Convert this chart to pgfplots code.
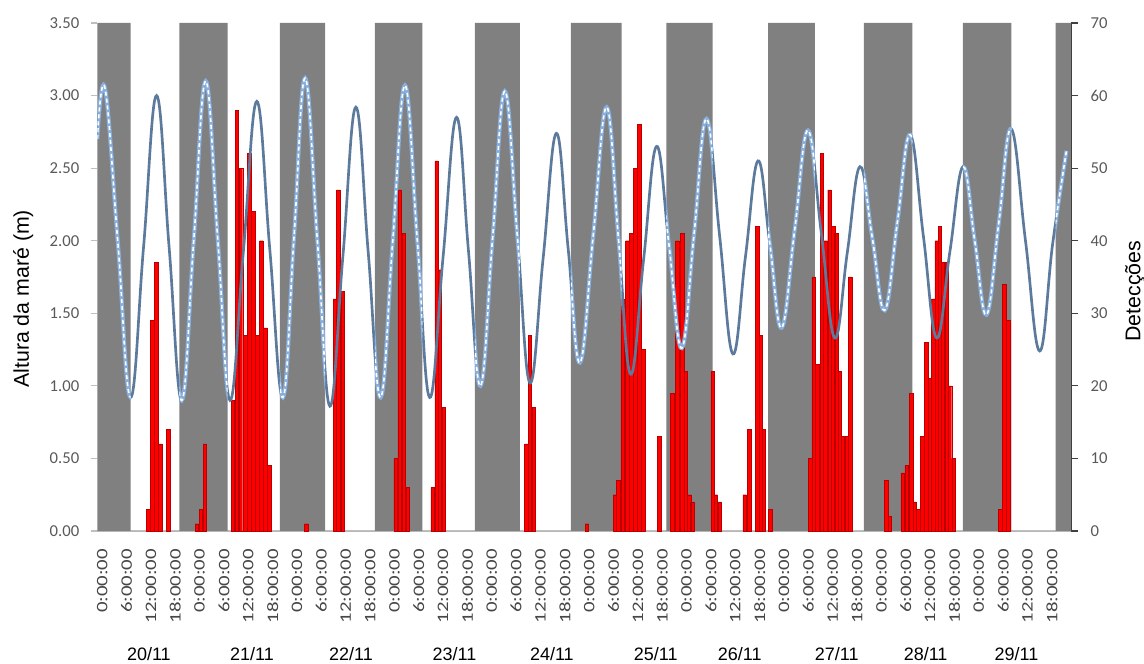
\documentclass[border=0pt]{standalone}
\usepackage{pgfplots}
\usepackage{pgfplotstable}
\pgfplotsset{compat=1.18}
\usepackage{fontspec}
\setmainfont{Carlito}
\newfontfamily\arialf{Liberation Sans}
\newfontfamily\calwide[FakeStretch=1.3]{Carlito}

\definecolor{nightgray}{RGB}{128,128,128}
\definecolor{detred}{RGB}{255,0,0}
\definecolor{detedge}{RGB}{185,0,0}
\definecolor{tideday}{RGB}{92,122,155}
\definecolor{tidenight}{RGB}{135,175,222}
\definecolor{ticktext}{RGB}{89,89,89}
\definecolor{xticktext}{RGB}{70,70,70}
\definecolor{baseline}{RGB}{191,191,191}
\definecolor{rightaxis}{RGB}{64,64,64}

% detections per hour (h = hours since 20/11 0:00)
\pgfplotstableread{
h n
12.5 3
13.5 29
14.5 37
15.5 12
17.5 14
24.5 1
25.5 3
26.5 12
33.4 18
34.4 58
35.4 50
36.4 27
37.4 52
38.4 44
39.4 27
40.4 40
41.4 28
42.4 9
51.5 1
58.5 32
59.4 47
60.4 33
73.5 10
74.5 47
75.5 41
76.5 6
82.6 6
83.6 51
84.4 36
85.4 17
105.7 12
106.6 27
107.5 17
120.6 1
127.5 5
128.3 7
129.4 32
130.6 40
131.6 41
132.5 50
133.5 56
134.5 25
138.5 13
141.7 19
142.9 40
144.1 41
145.0 22
145.8 5
146.6 4
151.6 22
152.4 5
153.3 4
159.5 5
160.6 14
162.6 42
163.4 27
164.2 14
165.8 3
175.6 10
176.5 35
177.4 23
178.5 52
179.4 40
180.4 47
181.3 42
182.1 41
182.9 22
183.7 13
184.6 13
185.5 35
194.4 7
195.3 2
198.4 8
199.4 9
200.5 19
201.4 4
202.3 3
203.3 13
204.2 26
205.1 21
206.0 32
206.8 40
207.6 42
208.4 37
209.2 37
210.1 20
211.0 10
222.5 3
223.5 34
224.4 29
}\detections

% tide height (m): highs, lows and the mid-level crossings between them
\pgfplotstableread{
h m
0 2.70
1.9 3.05
5.05 1.99
8.2 0.92
11.4 1.96
14.6 3.00
17.7 1.95
20.8 0.90
23.75 2.00
26.7 3.10
29.7 2.00
32.7 0.90
36.0 1.93
39.3 2.96
42.5 1.94
45.7 0.92
48.45 2.02
51.2 3.12
54.25 1.99
57.3 0.86
60.5 1.89
63.7 2.92
66.75 1.92
69.8 0.92
72.8 2.00
75.8 3.07
78.85 2.00
81.9 0.92
85.2 1.89
88.5 2.85
91.45 1.93
94.4 1.00
97.4 2.02
100.4 3.03
103.5 2.03
106.6 1.02
109.85 1.88
113.1 2.74
116.0 1.95
118.9 1.16
122.2 2.04
125.5 2.92
128.45 2.00
131.4 1.08
134.6 1.87
137.8 2.65
140.9 1.96
144.0 1.26
147.05 2.05
150.1 2.84
153.35 2.03
156.6 1.22
159.7 1.89
162.8 2.55
165.7 1.98
168.6 1.40
171.85 2.08
175.1 2.76
178.4 2.05
181.7 1.33
184.8 1.92
187.9 2.51
190.95 2.02
194.0 1.52
197.15 2.13
200.3 2.73
203.55 2.03
206.8 1.33
210.05 1.92
213.3 2.51
216.2 2.00
219.1 1.49
222.15 2.13
225.2 2.77
228.7 2.00
232.2 1.24
235.4 1.98
238.8 2.62
}\tide

\begin{document}
\begin{tikzpicture}
\path[use as bounding box] (-73pt,-99pt) rectangle (785pt,398.25pt);

\begin{axis}[
  at={(0,0)}, anchor=south west,
  width=730.5pt, height=381pt, scale only axis,
  xmin=0, xmax=240, ymin=0, ymax=3.5,
  axis x line*=bottom, axis y line*=left,
  x axis line style={draw=baseline, line width=0.8pt},
  y axis line style={draw=none},
  tick align=outside,
  major tick length=5pt,
  xtick={1.2,7.2,...,236},
  xticklabels={0:00:00,6:00:00,12:00:00,18:00:00,0:00:00,6:00:00,12:00:00,18:00:00,
    0:00:00,6:00:00,12:00:00,18:00:00,0:00:00,6:00:00,12:00:00,18:00:00,
    0:00:00,6:00:00,12:00:00,18:00:00,0:00:00,6:00:00,12:00:00,18:00:00,
    0:00:00,6:00:00,12:00:00,18:00:00,0:00:00,6:00:00,12:00:00,18:00:00,
    0:00:00,6:00:00,12:00:00,18:00:00,0:00:00,6:00:00,12:00:00,18:00:00},
  xtick style={draw=none},
  xticklabel style={rotate=90, anchor=east, font=\calwide\fontsize{12}{14}\selectfont, text=xticktext},
  xticklabel shift=5pt,
  ytick={0,0.5,...,3.5},
  ytick style={draw=baseline, line width=0.8pt},
  yticklabel style={font=\fontsize{12.5}{14}\selectfont, text=ticktext},
  yticklabel style={/pgf/number format/.cd, fixed, fixed zerofill, precision=2, assume math mode=true},
  yticklabel shift=5pt,
  every axis y label/.style={at={(axis description cs:-0.0762,0.457)}, anchor=center, rotate=90,
    font=\arialf\fontsize{16}{18}\selectfont},
  ylabel={Altura da maré (m)},
]
% night periods
\addplot[const plot, fill=nightgray, draw=none] coordinates {
  (0,3.5) (8.2,0) (20.2,3.5) (32.1,0) (45.0,3.5) (56.1,0) (68.4,3.5) (80.1,0)
  (93.0,3.5) (104.1,0) (116.7,3.5) (129.2,0) (140.2,3.5) (151.6,0) (165.3,3.5)
  (176.8,0) (188.9,3.5) (200.8,0) (213.3,3.5) (225.2,0) (236.1,3.5) (240,3.5)
} \closedcycle;

% detections, scaled onto the tide axis (70 -> 3.5)
\addplot[ybar, bar width=0.85, fill=detred, draw=detedge, line width=0.3pt]
  table[x=h, y expr=\thisrow{n}/20] {\detections};

% tide, day style along the whole record
\addplot[smooth, tension=0.7, tideday, line width=2pt] table[x=h, y=m] {\tide};

% tide, night style over the night periods
\begin{scope}
\clip (axis cs:0,0) rectangle (axis cs:8.2,3.5)
  (axis cs:20.2,0) rectangle (axis cs:32.1,3.5)
  (axis cs:45.0,0) rectangle (axis cs:56.1,3.5)
  (axis cs:68.4,0) rectangle (axis cs:80.1,3.5)
  (axis cs:93.0,0) rectangle (axis cs:104.1,3.5)
  (axis cs:116.7,0) rectangle (axis cs:129.2,3.5)
  (axis cs:140.2,0) rectangle (axis cs:151.6,3.5)
  (axis cs:165.3,0) rectangle (axis cs:176.8,3.5)
  (axis cs:188.9,0) rectangle (axis cs:200.8,3.5)
  (axis cs:213.3,0) rectangle (axis cs:225.2,3.5)
  (axis cs:236.1,0) rectangle (axis cs:240,3.5);
\addplot[smooth, tension=0.7, tidenight, line width=3pt] table[x=h, y=m] {\tide};
\addplot[smooth, tension=0.7, white, line width=1.2pt, dash pattern=on 3pt off 2.2pt] table[x=h, y=m] {\tide};
\end{scope}
\end{axis}

% right axis (detections) and the date labels
\begin{axis}[
  at={(0,0)}, anchor=south west,
  width=730.5pt, height=381pt, scale only axis,
  xmin=0, xmax=240, ymin=0, ymax=70,
  axis y line*=right, axis x line*=bottom,
  x axis line style={draw=none},
  y axis line style={draw=rightaxis, line width=0.8pt},
  tick align=outside,
  major tick length=5pt,
  xtick={12.7,38.1,62.5,88.0,112.0,137.6,158.3,182.2,204.1,226.5},
  xticklabels={20/11,21/11,22/11,23/11,24/11,25/11,26/11,27/11,28/11,29/11},
  xtick style={draw=none},
  xticklabel style={font=\arialf\fontsize{13.5}{15}\selectfont, text=black},
  xticklabel shift=79pt,
  ytick={0,10,...,70},
  ytick style={draw=rightaxis, line width=0.8pt},
  yticklabel style={font=\fontsize{12.5}{14}\selectfont, text=ticktext},
  yticklabel style={/pgf/number format/assume math mode=true},
  yticklabel shift=6pt,
  every axis y label/.style={at={(axis description cs:1.0654,0.472)}, anchor=center, rotate=90,
    font=\arialf\fontsize{16}{18}\selectfont},
  ylabel={Detecções},
]
\addplot[draw=none] coordinates {(0,0)};
\end{axis}
\end{tikzpicture}
\end{document}
